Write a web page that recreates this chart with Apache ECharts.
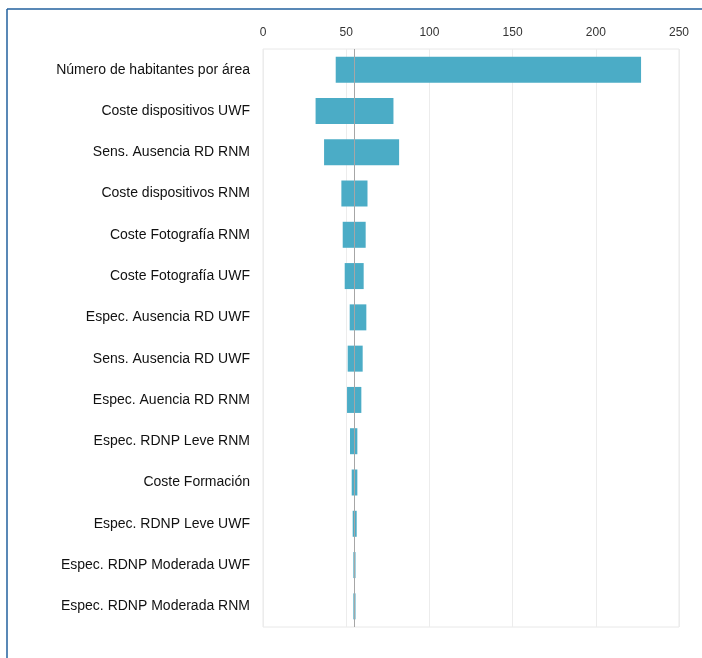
<!DOCTYPE html>
<html>
<head>
<meta charset="utf-8">
<script src="https://cdn.jsdelivr.net/npm/echarts@6/dist/echarts.min.js"></script>
<style>
html,body{margin:0;padding:0;background:#fff;}
#c{width:702px;height:658px;}
</style>
</head>
<body>
<div id="c"></div>
<script>
const categories = [
  "Número de habitantes por área",
  "Coste dispositivos UWF",
  "Sens. Ausencia RD RNM",
  "Coste dispositivos RNM",
  "Coste Fotografía RNM",
  "Coste Fotografía UWF",
  "Espec. Ausencia RD UWF",
  "Sens. Ausencia RD UWF",
  "Espec. Auencia RD RNM",
  "Espec. RDNP Leve RNM",
  "Coste Formación",
  "Espec. RDNP Leve UWF",
  "Espec. RDNP Moderada UWF",
  "Espec. RDNP Moderada RNM"
];
const lowValues  = [43.7, 31.6, 36.7, 47.1, 47.9, 49.1, 52.1, 50.9, 50.5, 52.3, 53.3, 53.9, 54.3, 54.3];
const highValues = [227.2, 78.4, 81.8, 62.8, 61.7, 60.5, 62.1, 59.9, 59.1, 56.7, 56.7, 56.3, 55.6, 55.6];
const baseValue = 54.9;
const xTicks = [0, 50, 100, 150, 200, 250];

const spanValues = highValues.map((h, i) => +(h - lowValues[i]).toFixed(2));

const chart = echarts.init(document.getElementById('c'));
chart.setOption({
  animation: false,
  textStyle: { fontFamily: 'Liberation Sans, Arial, sans-serif' },
  graphic: [
    { type: 'line', shape: { x1: 7, y1: 9, x2: 702, y2: 9 }, style: { stroke: '#22609e', lineWidth: 1.5 } },
    { type: 'line', shape: { x1: 7, y1: 9, x2: 7, y2: 658 }, style: { stroke: '#22609e', lineWidth: 1.5 } }
  ],
  grid: {
    left: 263, right: 23, top: 49, bottom: 31,
    show: true, borderColor: '#e8e8e8', borderWidth: 1
  },
  xAxis: {
    type: 'value',
    position: 'top',
    min: xTicks[0],
    max: xTicks[xTicks.length - 1],
    interval: 50,
    axisLine: { show: false },
    axisTick: { show: false },
    axisLabel: { color: '#333', fontSize: 12, margin: 10 },
    splitLine: { show: true, lineStyle: { color: '#ececec', width: 1 } }
  },
  yAxis: {
    type: 'category',
    inverse: true,
    data: categories,
    axisLine: { show: false },
    axisTick: { show: false },
    axisLabel: { color: '#111', fontSize: 14, margin: 13, padding: [4, 0, 0, 0] },
    splitLine: { show: false }
  },
  series: [
    {
      type: 'bar',
      stack: 't',
      data: lowValues,
      itemStyle: { color: 'transparent' },
      barWidth: 26,
      silent: true
    },
    {
      type: 'bar',
      stack: 't',
      data: spanValues,
      barWidth: 26,
      itemStyle: { color: '#4bacc6', borderWidth: 0 },
      markLine: {
        silent: true,
        symbol: 'none',
        label: { show: false },
        lineStyle: { color: '#a6a6a6', type: 'solid', width: 1 },
        data: [{ xAxis: baseValue }]
      }
    }
  ]
});
</script>
</body>
</html>
